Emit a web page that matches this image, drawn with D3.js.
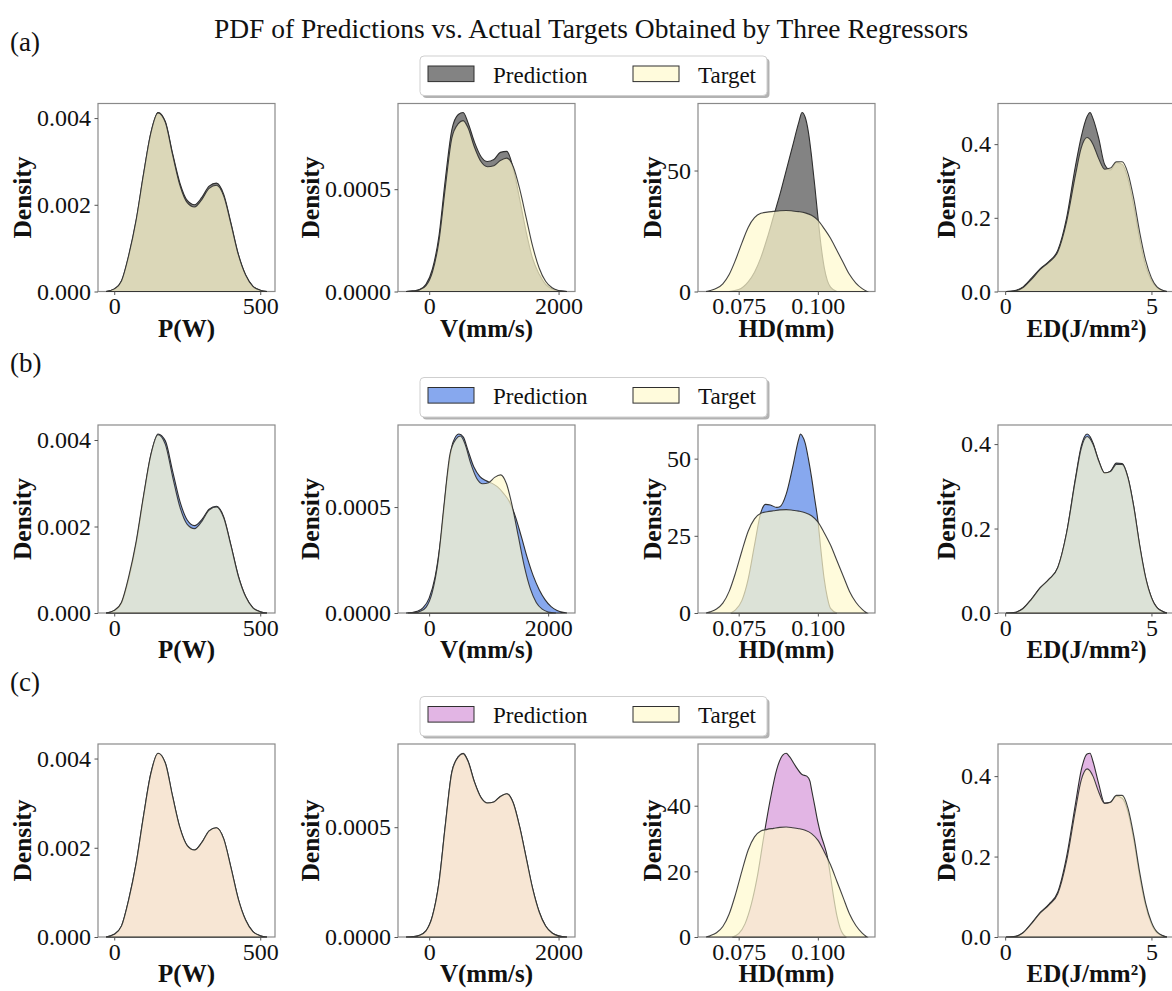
<!DOCTYPE html>
<html>
<head>
<meta charset="utf-8">
<script src="https://cdn.jsdelivr.net/npm/d3@7"></script>
<style>
  body { margin: 0; background: #fff; }
  svg { display: block; }
  text { font-family: "Liberation Serif", "Times New Roman", serif; fill: #111; }
</style>
</head>
<body>
<svg id="fig" width="1172" height="991"></svg>
<script>
// ---------- data ----------
const figTitle = "PDF of Predictions vs. Actual Targets Obtained by Three Regressors";
const rowTags = ["(a)", "(b)", "(c)"];
const legendLabels = ["Prediction", "Target"];
const xTitles = ["P(W)", "V(mm/s)", "HD(mm)", "ED(J/mm²)"];

// Laser power P (W), densities in units of 1e-3
const pX       = [-28, 0, 25, 50, 75, 100, 125, 150, 175, 200, 225, 250, 275, 300, 325, 350, 375, 400, 425, 450, 475, 500, 523];
const pTarget  = [0, 0.06, 0.25, 0.85, 1.65, 2.7, 3.65, 4.12, 3.9, 3.15, 2.45, 2.05, 1.95, 2.12, 2.38, 2.45, 2.2, 1.55, 0.85, 0.38, 0.12, 0.03, 0];
const pPredA   = [0, 0.05, 0.24, 0.83, 1.63, 2.68, 3.64, 4.13, 3.92, 3.18, 2.5, 2.1, 2.0, 2.17, 2.43, 2.5, 2.24, 1.57, 0.86, 0.38, 0.12, 0.03, 0];
const pPredB   = [0, 0.05, 0.23, 0.8, 1.6, 2.66, 3.64, 4.14, 3.98, 3.28, 2.58, 2.15, 2.02, 2.16, 2.4, 2.47, 2.22, 1.56, 0.86, 0.38, 0.12, 0.03, 0];
const pPredC   = [0, 0.06, 0.25, 0.85, 1.65, 2.7, 3.66, 4.12, 3.9, 3.15, 2.45, 2.05, 1.95, 2.12, 2.38, 2.45, 2.2, 1.55, 0.85, 0.38, 0.12, 0.03, 0];

// Scan speed V (mm/s), densities in units of 1e-4
const vX       = [-358, -250, -150, -50, 50, 150, 250, 350, 450, 525, 600, 700, 800, 900, 1000, 1100, 1200, 1300, 1400, 1500, 1600, 1700, 1800, 1900, 2000, 2130];
const vTarget  = [0, 0.02, 0.08, 0.28, 0.95, 2.45, 5.1, 7.5, 8.2, 8.35, 8.0, 7.05, 6.35, 6.1, 6.15, 6.4, 6.52, 6.1, 5.0, 3.6, 2.2, 1.15, 0.5, 0.18, 0.05, 0];
const vPredA   = [0, 0.03, 0.1, 0.35, 1.1, 2.7, 5.5, 7.9, 8.65, 8.75, 8.25, 7.3, 6.6, 6.35, 6.45, 6.8, 6.85, 6.0, 4.5, 2.9, 1.6, 0.85, 0.35, 0.12, 0.03, 0];
const vPredBX  = [-388, -300, -200, -100, 0, 100, 200, 300, 400, 500, 575, 650, 750, 850, 950, 1050, 1150, 1250, 1350, 1450, 1550, 1650, 1750, 1850, 1950, 2050, 2150, 2250, 2316];
const vPredB   = [0, 0.02, 0.08, 0.25, 0.7, 1.7, 3.6, 6.3, 8.05, 8.45, 8.3, 7.7, 6.9, 6.45, 6.25, 6.13, 5.95, 5.65, 5.25, 4.55, 3.6, 2.6, 1.75, 1.1, 0.62, 0.3, 0.12, 0.03, 0];
const vPredC   = [0, 0.02, 0.08, 0.28, 0.96, 2.47, 5.12, 7.52, 8.22, 8.37, 8.02, 7.06, 6.36, 6.1, 6.15, 6.4, 6.52, 6.1, 5.0, 3.6, 2.2, 1.15, 0.5, 0.18, 0.05, 0];

// Hatch distance HD (mm)
const hdX      = [0.0647, 0.066, 0.068, 0.070, 0.072, 0.074, 0.076, 0.078, 0.080, 0.082, 0.084, 0.086, 0.088, 0.090, 0.092, 0.094, 0.096, 0.098, 0.100, 0.102, 0.104, 0.106, 0.108, 0.110, 0.112, 0.114, 0.1155];
const hdTarget = [0, 0.4, 1.3, 3.2, 7, 13, 20, 26.5, 30.5, 32.3, 32.8, 33.1, 33.4, 33.5, 33.3, 33, 32.5, 31.5, 29.5, 26, 22, 17, 12, 7, 3.5, 1.2, 0];
const hdPredAX = [0.072, 0.075, 0.078, 0.080, 0.082, 0.084, 0.086, 0.088, 0.090, 0.092, 0.094, 0.095, 0.096, 0.097, 0.098, 0.099, 0.100, 0.101, 0.102, 0.103, 0.104, 0.106];
const hdPredA  = [0, 0.8, 4, 8, 14, 22, 31, 40, 50, 60, 70, 74, 72, 66, 56, 44, 31, 19, 10, 4.5, 1.8, 0];
const hdPredBX = [0.0725, 0.074, 0.076, 0.078, 0.080, 0.082, 0.0835, 0.085, 0.087, 0.088, 0.090, 0.092, 0.094, 0.0945, 0.095, 0.096, 0.097, 0.098, 0.099, 0.100, 0.101, 0.102, 0.103, 0.104, 0.106];
const hdPredB  = [0, 1, 4, 11, 22, 32.5, 35.2, 35, 34.2, 34.4, 38.5, 47, 56.5, 58, 57.5, 55, 50, 44, 37, 30, 20, 11, 5, 1.5, 0];
const hdPredCX = [0.073, 0.075, 0.077, 0.079, 0.081, 0.083, 0.085, 0.087, 0.089, 0.090, 0.091, 0.093, 0.095, 0.0965, 0.0975, 0.098, 0.099, 0.100, 0.101, 0.102, 0.103, 0.104, 0.105, 0.106, 0.107, 0.108, 0.109];
const hdPredC  = [0, 1, 4, 10, 19, 31, 42, 51, 55.5, 56, 55, 52, 49.5, 49, 47.5, 45, 40, 35, 31, 28, 24.5, 18.5, 12, 6.5, 2.8, 0.8, 0];

// Energy density ED (J/mm²)
const edX      = [0.03, 0.3, 0.6, 0.9, 1.2, 1.5, 1.8, 2.1, 2.4, 2.6, 2.8, 2.9, 3.0, 3.2, 3.4, 3.6, 3.8, 4.0, 4.2, 4.4, 4.6, 4.8, 5.0, 5.2, 5.53];
const edTarget = [0, 0.001, 0.01, 0.033, 0.06, 0.08, 0.108, 0.19, 0.315, 0.39, 0.418, 0.413, 0.4, 0.36, 0.332, 0.335, 0.352, 0.352, 0.32, 0.25, 0.16, 0.085, 0.037, 0.012, 0];
const edPredA  = [0, 0.002, 0.012, 0.036, 0.062, 0.082, 0.112, 0.2, 0.34, 0.42, 0.475, 0.486, 0.47, 0.415, 0.345, 0.33, 0.35, 0.345, 0.305, 0.23, 0.14, 0.07, 0.03, 0.01, 0];
const edPredB  = [0, 0.001, 0.01, 0.033, 0.06, 0.08, 0.108, 0.19, 0.318, 0.395, 0.424, 0.418, 0.403, 0.36, 0.331, 0.336, 0.355, 0.354, 0.32, 0.25, 0.158, 0.083, 0.036, 0.012, 0];
const edPredC  = [0, 0.001, 0.01, 0.034, 0.061, 0.082, 0.112, 0.2, 0.33, 0.415, 0.455, 0.457, 0.437, 0.38, 0.333, 0.335, 0.35, 0.345, 0.31, 0.24, 0.15, 0.078, 0.033, 0.01, 0];

// tick values and their labels
const pXTicks = [0, 500],        pXLabels = ["0", "500"];
const vXTicks = [0, 2000],       vXLabels = ["0", "2000"];
const hdXTicks = [0.075, 0.100], hdXLabels = ["0.075", "0.100"];
const edXTicks = [0, 5],         edXLabels = ["0", "5"];
const pYTicks = [0, 0.002, 0.004],  pYLabels = ["0.000", "0.002", "0.004"];
const vYTicks = [0, 0.0005],        vYLabels = ["0.0000", "0.0005"];
const edYTicks = [0, 0.2, 0.4],     edYLabels = ["0.0", "0.2", "0.4"];
const hdYTicksA = [0, 50],     hdYLabelsA = ["0", "50"];
const hdYTicksB = [0, 25, 50], hdYLabelsB = ["0", "25", "50"];
const hdYTicksC = [0, 20, 40], hdYLabelsC = ["0", "20", "40"];

// ---------- style / layout ----------
const predFill = ["#838383", "#87a8ee", "#e2b5e4"];
const targetFill = "#fffacd", targetOpacity = 0.71;
const edgeColor = "#2f2f2f";
const spineColor = "#8a8a8a";
const serif = "'Liberation Serif', 'Times New Roman', serif";
const colLeft = [98, 398, 698, 998];
const panelW = 177;
const rowTop = [103.5, 425, 744];
const rowH = [188, 188, 193];

const pairs = (xs, ys, unit = 1) => xs.map((x, i) => [x, ys[i] * unit]);

const rowsSpec = [
  { preds: [pairs(pX, pPredA, 1e-3), pairs(vX, vPredA, 1e-4), pairs(hdPredAX, hdPredA), pairs(edX, edPredA)],
    hdY: [hdYTicksA, hdYLabelsA] },
  { preds: [pairs(pX, pPredB, 1e-3), pairs(vPredBX, vPredB, 1e-4), pairs(hdPredBX, hdPredB), pairs(edX, edPredB)],
    hdY: [hdYTicksB, hdYLabelsB] },
  { preds: [pairs(pX, pPredC, 1e-3), pairs(vX, vPredC, 1e-4), pairs(hdPredCX, hdPredC), pairs(edX, edPredC)],
    hdY: [hdYTicksC, hdYLabelsC] }
];
const targets = [pairs(pX, pTarget, 1e-3), pairs(vX, vTarget, 1e-4), pairs(hdX, hdTarget), pairs(edX, edTarget)];
const xTickSets = [[pXTicks, pXLabels], [vXTicks, vXLabels], [hdXTicks, hdXLabels], [edXTicks, edXLabels]];
const yTickSets = [[pYTicks, pYLabels], [vYTicks, vYLabels], null, [edYTicks, edYLabels]];

const svg = d3.select("#fig");

svg.append("text")
  .attr("x", 591).attr("y", 38)
  .attr("text-anchor", "middle")
  .style("font-size", "27.5px")
  .text(figTitle);

function drawPanel(g, pred, target, color, xt, yt, h, title) {
  const xs = pred.concat(target).map(d => d[0]);
  const [x0, x1] = d3.extent(xs);
  const padX = (x1 - x0) * 0.05;
  const yMax = d3.max(pred.concat(target), d => d[1]) * 1.05;
  const x = d3.scaleLinear().domain([x0 - padX, x1 + padX]).range([0, panelW]);
  const y = d3.scaleLinear().domain([0, yMax]).range([h, 0]);

  g.append("rect").attr("width", panelW).attr("height", h)
    .attr("fill", "none").attr("stroke", spineColor).attr("stroke-width", 1.2);

  const area = d3.area().x(d => x(d[0])).y0(y(0)).y1(d => y(d[1])).curve(d3.curveMonotoneX);

  g.append("path").datum(pred).attr("d", area)
    .attr("fill", color).attr("stroke", edgeColor).attr("stroke-width", 1.1);
  g.append("path").datum(target).attr("d", area)
    .attr("fill", targetFill).attr("fill-opacity", targetOpacity)
    .attr("stroke", edgeColor).attr("stroke-width", 1.1).attr("stroke-opacity", 0.9);

  const xa = g.append("g").attr("transform", `translate(0,${h})`)
    .call(d3.axisBottom(x).tickValues(xt[0]).tickFormat((d, i) => xt[1][i]).tickSize(3.5).tickPadding(2));
  const ya = g.append("g")
    .call(d3.axisLeft(y).tickValues(yt[0]).tickFormat((d, i) => yt[1][i]).tickSize(3.5).tickPadding(3.5));
  [xa, ya].forEach(a => {
    a.attr("font-family", serif).attr("font-size", 24);
    a.select(".domain").remove();
    a.selectAll("line").attr("stroke", "#555").attr("stroke-width", 1);
    a.selectAll("text").style("font-size", "24px").style("font-family", serif).attr("fill", "#111");
  });

  g.append("text").attr("x", panelW / 2).attr("y", h + 45)
    .attr("text-anchor", "middle").style("font-size", "25px").style("font-weight", "bold")
    .text(title);

  const labW = d3.max(ya.selectAll("text").nodes(), n => n.getComputedTextLength());
  const bx = -3.5 - 3.5 - labW - 6;
  g.append("text").attr("transform", `translate(${bx},${h / 2}) rotate(-90)`)
    .attr("text-anchor", "middle").style("font-size", "25.5px").style("font-weight", "bold")
    .text("Density");
}

function drawLegend(top, color) {
  const lg = svg.append("g").attr("transform", `translate(420,${top})`);
  lg.append("rect").attr("x", 2.5).attr("y", 2.5).attr("width", 347).attr("height", 39.5).attr("rx", 4)
    .attr("fill", "#000").attr("fill-opacity", 0.3);
  lg.append("rect").attr("width", 347).attr("height", 39.5).attr("rx", 4)
    .attr("fill", "#fff").attr("stroke", "#cfcfcf").attr("stroke-width", 1);
  lg.append("rect").attr("x", 8).attr("y", 10).attr("width", 46).attr("height", 15.6)
    .attr("fill", color).attr("stroke", edgeColor).attr("stroke-width", 1);
  lg.append("text").attr("x", 73).attr("y", 26.5).style("font-size", "23px").text(legendLabels[0]);
  lg.append("rect").attr("x", 213).attr("y", 10).attr("width", 46).attr("height", 15.6)
    .attr("fill", targetFill).attr("fill-opacity", targetOpacity)
    .attr("stroke", edgeColor).attr("stroke-width", 1);
  lg.append("text").attr("x", 278).attr("y", 26.5).style("font-size", "23px").text(legendLabels[1]);
}

rowsSpec.forEach((row, r) => {
  const top = rowTop[r], h = rowH[r];
  const legTop = top - 8 - 39.5;
  drawLegend(legTop, predFill[r]);
  svg.append("text").attr("x", 10).attr("y", legTop - 5.5).style("font-size", "27px").text(rowTags[r]);
  for (let c = 0; c < 4; c++) {
    const g = svg.append("g").attr("transform", `translate(${colLeft[c]},${top})`);
    const yt = c === 2 ? row.hdY : yTickSets[c];
    drawPanel(g, row.preds[c], targets[c], predFill[r], xTickSets[c], yt, h, xTitles[c]);
  }
});
</script>
</body>
</html>
